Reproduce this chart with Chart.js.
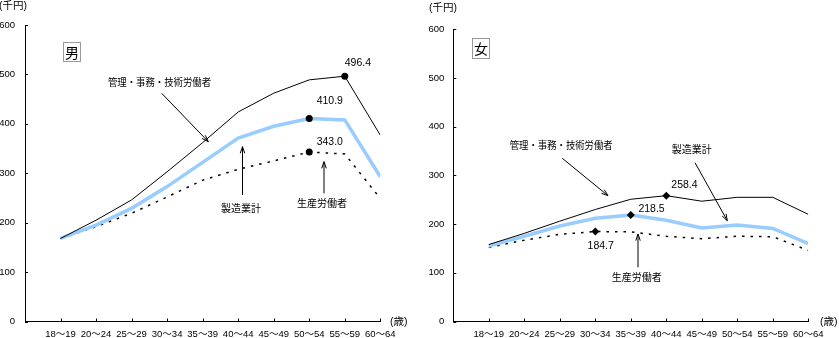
<!DOCTYPE html>
<html lang="ja">
<head>
<meta charset="utf-8">
<title>製造業 年齢階級別賃金</title>
<script src="https://cdn.jsdelivr.net/npm/chart.js@4"></script>
<style>
  body { margin: 0; background: #fff; }
  #wrap { position: relative; width: 839px; height: 338px; }
  canvas { position: absolute; top: 0; }
  #maleChart { left: 0; }
  #femaleChart { left: 419px; }
</style>
</head>
<body>
<div id="wrap">
  <canvas id="maleChart" width="419" height="338"></canvas>
  <canvas id="femaleChart" width="420" height="338"></canvas>
</div>
<script>
// 年齢階級と目盛
const ageGroups = ['18～19', '20～24', '25～29', '30～34', '35～39', '40～44', '45～49', '50～54', '55～59', '60～64'];
const yTicks = [0, 100, 200, 300, 400, 500, 600];

// 男（千円）
const maleClerical   = [168, 205, 246, 303, 362, 424, 462, 489, 496.4, 377];
const maleTotal      = [168, 195, 229, 273, 322, 371, 395, 410.9, 408, 293];
const maleProduction = [168, 192, 219, 252, 286, 308, 325, 343.0, 339, 249];

// 女（千円）
const femaleClerical   = [158, 181, 206, 230, 251, 258.4, 247, 255, 255, 220];
const femaleTotal      = [155, 175, 196, 212, 218.5, 208, 192, 198, 191, 160];
const femaleProduction = [152, 167, 179, 184.7, 184, 175, 170, 175, 174, 146];

const numFont = '"Liberation Sans", "Noto Sans CJK JP", sans-serif';
const jpFont = '"Noto Sans CJK JP", sans-serif';

Chart.defaults.font.family = numFont;
Chart.defaults.color = '#000';

// series -> {x, y} points on the linear age axis
function toPoints(values) {
  return values.map((v, i) => ({ x: i, y: v }));
}

// only the highlighted age group gets a marker
function markerRadius(values, idx, r) {
  return values.map((v, i) => (i === idx ? r : 0));
}

function drawArrow(ctx, x1, y1, x2, y2) {
  ctx.beginPath();
  ctx.moveTo(x1, y1);
  ctx.lineTo(x2, y2);
  ctx.stroke();
  const a = Math.atan2(y2 - y1, x2 - x1);
  const len = 7, spread = 0.33;
  ctx.beginPath();
  ctx.moveTo(x2 - len * Math.cos(a - spread), y2 - len * Math.sin(a - spread));
  ctx.lineTo(x2, y2);
  ctx.lineTo(x2 - len * Math.cos(a + spread), y2 - len * Math.sin(a + spread));
  ctx.stroke();
}

// tick marks, series names, arrows, value labels, panel title
function panelNotes(notes) {
  return {
    id: 'panelNotes',
    afterDraw(chart) {
      const { ctx, chartArea, scales } = chart;
      ctx.save();
      ctx.strokeStyle = '#000';
      ctx.fillStyle = '#000';
      ctx.lineWidth = 1;

      // inward tick marks
      ctx.beginPath();
      ageGroups.forEach((g, i) => {
        const x = Math.round(scales.x.getPixelForValue(i)) + 0.5;
        ctx.moveTo(x, chartArea.bottom);
        ctx.lineTo(x, chartArea.bottom - 3);
      });
      yTicks.forEach(t => {
        const y = Math.round(scales.y.getPixelForValue(t)) + 0.5;
        ctx.moveTo(chartArea.left, y);
        ctx.lineTo(chartArea.left + 3, y);
      });
      ctx.stroke();

      // units
      ctx.font = '10.5px ' + numFont;
      ctx.textBaseline = 'middle';
      ctx.textAlign = 'left';
      ctx.fillText('(千円)', notes.unitY[0], notes.unitY[1]);
      ctx.fillText('(歳)', notes.unitX[0], notes.unitX[1]);

      // panel title box
      const b = notes.title;
      ctx.strokeStyle = '#999';
      ctx.strokeRect(b.x + 0.5, b.y + 0.5, b.w, b.h);
      ctx.font = '14px ' + jpFont;
      ctx.textAlign = 'center';
      ctx.fillText(b.text, b.x + b.w / 2 + 0.5, b.y + b.h / 2 + 1);

      // series names and arrows
      ctx.textAlign = 'left';
      ctx.strokeStyle = '#000';
      ctx.font = '10px ' + jpFont;
      notes.names.forEach(n => {
        ctx.fillText(n.text, n.x, n.y, n.maxW || 200);
        drawArrow(ctx, n.from[0], n.from[1], n.to[0], n.to[1]);
      });

      // values at the markers
      ctx.font = '10.5px ' + numFont;
      notes.values.forEach(v => {
        const pt = chart.getDatasetMeta(v.ds).data[v.idx];
        const val = chart.data.datasets[v.ds].data[v.idx].y;
        ctx.fillText(val.toFixed(1), pt.x + v.dx, pt.y + v.dy);
      });
      ctx.restore();
    }
  };
}

function buildChart(id, series, opts) {
  const [clerical, total, production] = series;
  new Chart(document.getElementById(id), {
    type: 'line',
    data: {
      datasets: [
        {
          label: '管理・事務・技術労働者',
          data: toPoints(clerical),
          borderColor: '#000',
          borderWidth: 1,
          pointRadius: markerRadius(clerical, opts.marks[0], opts.markR),
          pointStyle: opts.markStyle,
          pointBackgroundColor: '#000',
          pointBorderWidth: 0,
          tension: 0
        },
        {
          label: '製造業計',
          data: toPoints(total),
          borderColor: 'rgb(153, 204, 255)',
          borderWidth: 3.5,
          pointRadius: markerRadius(total, opts.marks[1], opts.markR),
          pointStyle: opts.markStyle,
          pointBackgroundColor: '#000',
          pointBorderWidth: 0,
          tension: 0
        },
        {
          label: '生産労働者',
          data: toPoints(production),
          borderColor: '#000',
          borderWidth: 1.5,
          borderDash: [2.5, 6],
          pointRadius: markerRadius(production, opts.marks[2], opts.markR),
          pointStyle: opts.markStyle,
          pointBackgroundColor: '#000',
          pointBorderWidth: 0,
          tension: 0
        }
      ]
    },
    options: {
      responsive: false,
      animation: false,
      layout: {
        padding: { top: opts.top, right: opts.right, bottom: 0, left: 0 }
      },
      plugins: {
        legend: { display: false },
        tooltip: { enabled: false }
      },
      scales: {
        x: {
          type: 'linear',
          min: -1,
          max: 9,
          afterFit: s => { s.height = 338 - 321.5; },
          grid: { drawOnChartArea: false, drawTicks: false },
          border: { color: '#000', width: 1 },
          ticks: {
            stepSize: 1,
            autoSkip: false,
            maxRotation: 0,
            padding: 7,
            font: { size: 9.5 },
            callback: v => ageGroups[v] || ''
          }
        },
        y: {
          min: 0,
          max: 600,
          afterFit: s => { s.width = opts.axisX; },
          grid: { drawOnChartArea: false, drawTicks: false },
          border: { color: '#000', width: 1 },
          ticks: {
            stepSize: 100,
            padding: opts.labelGap,
            font: { size: 9.5 }
          }
        }
      }
    },
    plugins: [panelNotes(opts.notes)]
  });
}

buildChart('maleChart', [maleClerical, maleTotal, maleProduction], {
  top: 25, right: 38.7, axisX: 25, labelGap: 10,
  marks: [8, 7, 7], markR: 3.5, markStyle: 'circle',
  notes: {
    unitY: [-1, 6], unitX: [390, 322],
    title: { text: '男', x: 63, y: 42, w: 17, h: 19 },
    names: [
      { text: '管理・事務・技術労働者', x: 108, y: 82.5, maxW: 103, from: [161.7, 93.3], to: [208.3, 141.7] },
      { text: '製造業計', x: 221, y: 208.3, from: [242.5, 195], to: [242.5, 146.7] },
      { text: '生産労働者', x: 297, y: 203.3, from: [324, 193.3], to: [324, 161.7] }
    ],
    values: [
      { ds: 0, idx: 8, dx: 0, dy: -13.5 },
      { ds: 1, idx: 7, dx: 7.4, dy: -17 },
      { ds: 2, idx: 7, dx: 7.4, dy: -10 }
    ]
  }
});

buildChart('femaleChart', [femaleClerical, femaleTotal, femaleProduction], {
  top: 29.3, right: 30.7, axisX: 34.3, labelGap: 9,
  marks: [5, 4, 3], markR: 4, markStyle: 'rectRot',
  notes: {
    unitY: [10, 8], unitX: [401, 322],
    title: { text: '女', x: 53, y: 38, w: 17, h: 20 },
    names: [
      { text: '管理・事務・技術労働者', x: 90.7, y: 145, maxW: 103, from: [143.3, 158.3], to: [189, 195.7] },
      { text: '製造業計', x: 252.7, y: 149, from: [276, 162.7], to: [308.3, 220.7] },
      { text: '生産労働者', x: 192.7, y: 277.3, from: [219, 267.3], to: [219, 234] }
    ],
    values: [
      { ds: 0, idx: 5, dx: 5, dy: -10.7 },
      { ds: 1, idx: 4, dx: 7.6, dy: -6 },
      { ds: 2, idx: 3, dx: -7.7, dy: 14.4 }
    ]
  }
});
</script>
</body>
</html>
